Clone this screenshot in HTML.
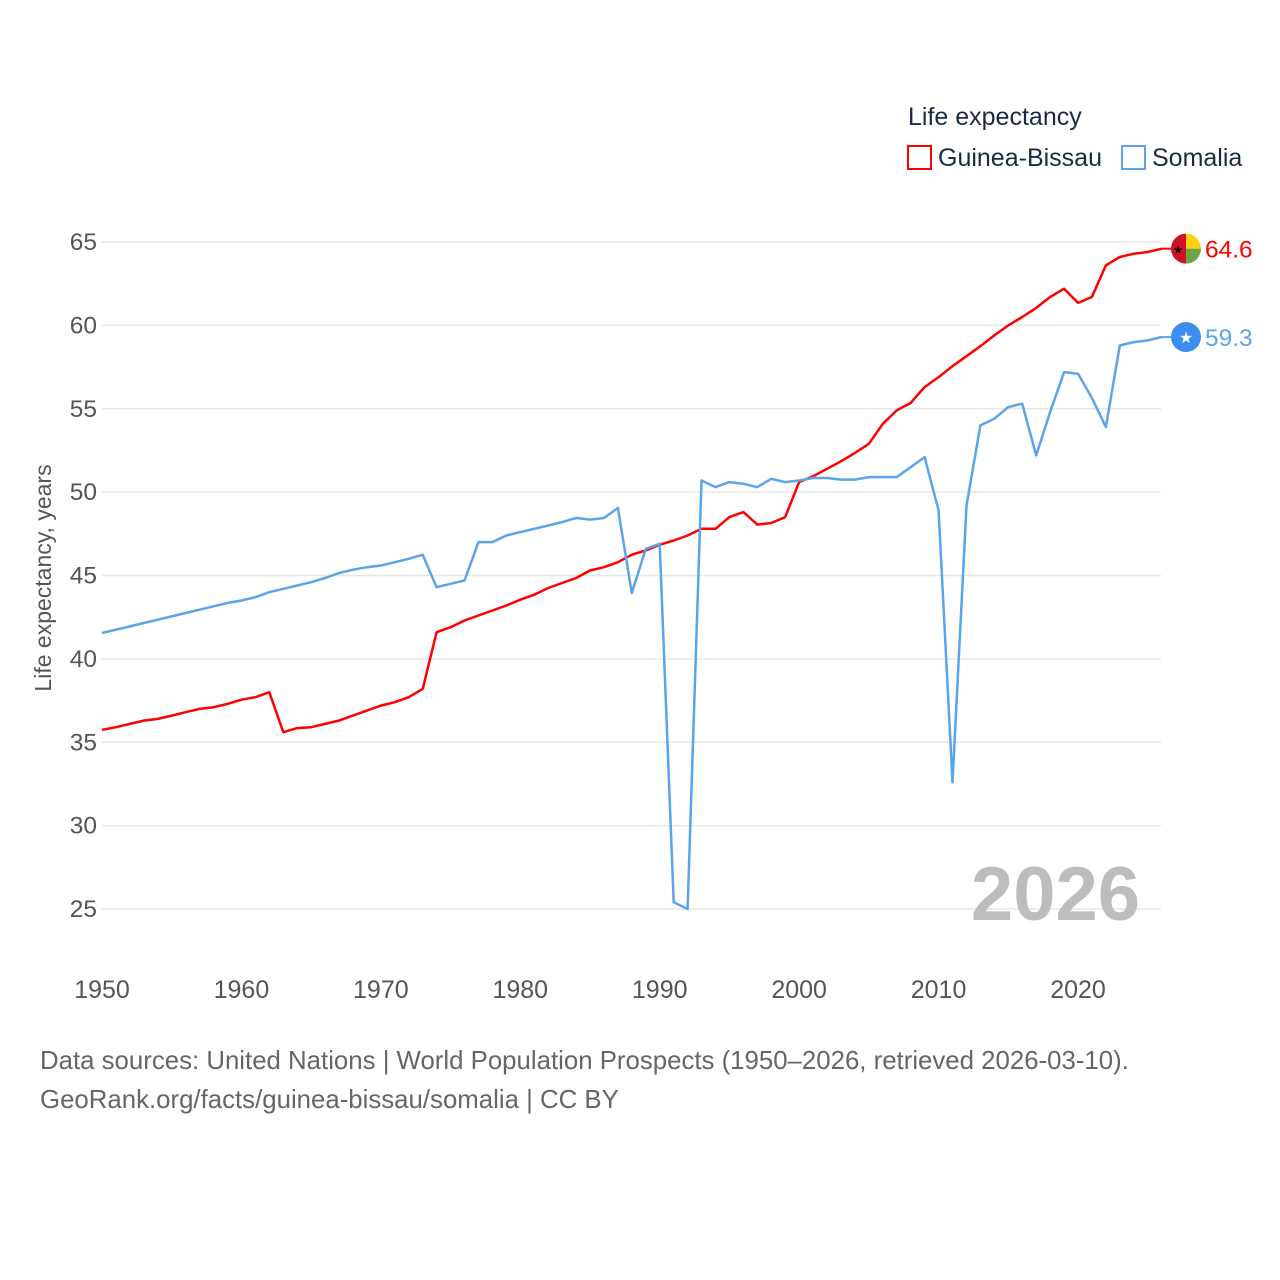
<!DOCTYPE html>
<html><head><meta charset="utf-8"><style>
body{margin:0;background:#fff;}
svg{display:block;font-family:"Liberation Sans",sans-serif;}
</style></head><body>
<svg id="chart" width="1280" height="1280" viewBox="0 0 1280 1280">
<g id="grid"></g>
<g id="yticks"></g>
<g id="xticks"></g>
<text transform="translate(51,578) rotate(-90)" text-anchor="middle" font-size="23" fill="#555">Life expectancy, years</text>
<text x="1140" y="920" text-anchor="end" font-size="76" font-weight="bold" fill="#bdbdbd">2026</text>
<g id="series"></g>
<text x="908" y="125" font-size="25" fill="#1a2a44">Life expectancy</text>
<g>
<rect x="908" y="146" width="23" height="23" fill="none" stroke="#ff0000" stroke-width="2"/>
<text x="938" y="166" font-size="25" fill="#1a2a44">Guinea-Bissau</text></g>
<g>
<rect x="1122" y="146" width="23" height="23" fill="none" stroke="#5aa5ea" stroke-width="2"/>
<text x="1152" y="166" font-size="25" fill="#1a2a44">Somalia</text></g>
<text x="40" y="1069" font-size="25.8" fill="#666">Data sources: United Nations | World Population Prospects (1950–2026, retrieved 2026-03-10).</text>
<text x="40" y="1108" font-size="25.8" fill="#666">GeoRank.org/facts/guinea-bissau/somalia | CC BY</text>
</svg>
<script>
const years = [];
for (let y = 1950; y <= 2026; y++) years.push(y);
const guineaBissau = [35.74,35.9,36.1,36.3,36.4,36.6,36.8,37.0,37.1,37.3,37.55,37.7,38.0,35.6,35.85,35.9,36.1,36.3,36.6,36.9,37.2,37.4,37.7,38.2,41.6,41.9,42.3,42.6,42.9,43.2,43.55,43.85,44.25,44.55,44.85,45.3,45.5,45.8,46.25,46.5,46.85,47.1,47.4,47.8,47.8,48.5,48.8,48.05,48.15,48.5,50.6,50.95,51.4,51.85,52.35,52.9,54.1,54.9,55.35,56.3,56.9,57.55,58.15,58.75,59.4,60.0,60.5,61.05,61.7,62.2,61.35,61.7,63.6,64.1,64.3,64.4,64.6];
const somalia = [41.55,41.75,41.95,42.15,42.35,42.55,42.75,42.95,43.15,43.35,43.5,43.7,44.0,44.2,44.4,44.6,44.85,45.15,45.35,45.5,45.6,45.8,46.0,46.25,44.3,44.5,44.7,47.0,47.0,47.4,47.6,47.8,48.0,48.2,48.45,48.35,48.45,49.05,43.95,46.6,46.9,25.4,25.0,50.7,50.3,50.6,50.5,50.3,50.8,50.6,50.7,50.85,50.85,50.75,50.75,50.9,50.9,50.9,51.5,52.1,48.9,32.6,49.2,54.0,54.4,55.1,55.3,52.2,54.8,57.2,57.1,55.65,53.9,58.8,59.0,59.1,59.3];
const yTicks = [25,30,35,40,45,50,55,60,65];
const xTicks = [1950,1960,1970,1980,1990,2000,2010,2020];
const finalLabels = ["64.6","59.3"];

const NS = "http://www.w3.org/2000/svg";
const X = yr => 102 + (yr - 1950) * (1078 - 102) / 70;
const Y = v => 242 + (65 - v) * (909 - 242) / 40;
function mk(tag, attrs, parent, txt) {
  const e = document.createElementNS(NS, tag);
  for (const k in attrs) e.setAttribute(k, attrs[k]);
  if (txt !== undefined) e.textContent = txt;
  parent.appendChild(e); return e;
}
const grid = document.getElementById('grid'), yt = document.getElementById('yticks'), xt = document.getElementById('xticks'), ser = document.getElementById('series');
yTicks.forEach(v => {
  const l = mk('line', {x1: 102, x2: 1161, y1: Y(v), y2: Y(v), stroke: '#e6e6e6', 'stroke-width': 1.5}, grid);
  
  
  const t = mk('text', {x: 97, y: Y(v) + 8, 'text-anchor': 'end', 'font-size': 24.5, fill: '#555'}, yt, String(v));
  
  
});
xTicks.forEach(v => {
  const t = mk('text', {x: X(v), y: 998, 'text-anchor': 'middle', 'font-size': 25, fill: '#555'}, xt, String(v));
  
  
});
function line(data, color, name) {
  const d = data.map((v, i) => (i ? 'L' : 'M') + X(years[i]).toFixed(1) + ' ' + Y(v).toFixed(1)).join(' ');
  const p = mk('path', {d: d, fill: 'none', stroke: color, 'stroke-width': 2.5, 'stroke-linejoin': 'round'}, ser);
  
  
  mk('line', {x1: X(2026), x2: X(2026) + 10, y1: Y(data[data.length-1]), y2: Y(data[data.length-1]), stroke: color, 'stroke-width': 2}, ser);
}
line(guineaBissau, '#ff0000', 'line-guinea-bissau');
line(somalia, '#5aa5ea', 'line-somalia');

const gy = Y(guineaBissau[guineaBissau.length-1]), sy = Y(somalia[somalia.length-1]), cx = 1186;
const gf = mk('g', {}, ser);


mk('clipPath', {id: 'cg'}, gf);
mk('circle', {cx: cx, cy: gy, r: 15}, gf.querySelector('#cg'));
const gg = mk('g', {'clip-path': 'url(#cg)'}, gf);
mk('rect', {x: cx-15, y: gy-15, width: 15, height: 30, fill: '#ce1126'}, gg);
mk('rect', {x: cx, y: gy-15, width: 15, height: 15, fill: '#fcd116'}, gg);
mk('rect', {x: cx, y: gy, width: 15, height: 15, fill: '#6ba543'}, gg);
mk('text', {x: cx-8, y: gy+5, 'text-anchor': 'middle', 'font-size': 11, fill: '#000'}, gf, '★');
const sf = mk('g', {}, ser);


mk('circle', {cx: cx, cy: sy, r: 15, fill: '#3a8ef0'}, sf);
mk('text', {x: cx, y: sy+6, 'text-anchor': 'middle', 'font-size': 16, fill: '#fff'}, sf, '★');
const l1 = mk('text', {x: 1205, y: gy+9, 'font-size': 24.5, fill: '#ff0000'}, ser, finalLabels[0]);


const l2 = mk('text', {x: 1205, y: sy+9, 'font-size': 24.5, fill: '#5aa5ea'}, ser, finalLabels[1]);


</script>
</body></html>
